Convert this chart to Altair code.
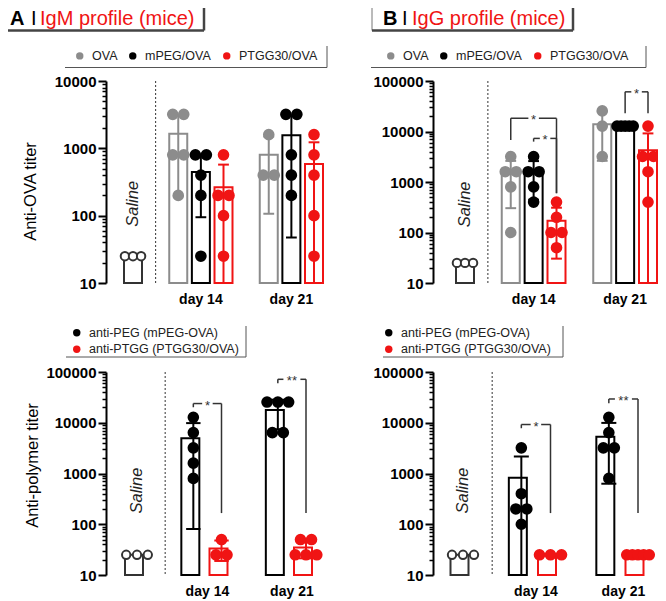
import math
from collections import Counter, defaultdict
import altair as alt
import pandas as pd

# ---------------- data: individual titers ----------------
saline_titer = [25, 25, 25]
day_labels = ["day 14", "day 21"]
ova_series = ["OVA", "mPEG/OVA", "PTGG30/OVA"]
polymer_series = ["anti-PEG (mPEG-OVA)", "anti-PTGG (PTGG30/OVA)"]

# A (top): IgM anti-OVA
igm_ova_d14 = [3200, 3200, 800, 800, 200]
igm_mpeg_d14 = [800, 800, 400, 200, 25]
igm_ptgg_d14 = [800, 200, 200, 100, 25]
igm_ova_d21 = [1600, 400, 400]
igm_mpeg_d21 = [3200, 3200, 800, 400, 200]
igm_ptgg_d21 = [1600, 800, 400, 100, 25]

# B (top): IgG anti-OVA
igg_ova_d14 = [3200, 1600, 1600, 800, 100]
igg_mpeg_d14 = [3200, 1600, 1600, 800, 400]
igg_ptgg_d14 = [400, 200, 100, 100, 50]
igg_ova_d21 = [25600, 12800, 3200]
igg_mpeg_d21 = [12800, 12800, 12800, 12800, 12800]
igg_ptgg_d21 = [12800, 3200, 3200, 1600, 400]

# A (bottom): IgM anti-polymer
igm_antipeg_d14 = [12800, 6400, 3200, 1600, 800]
igm_antiptgg_d14 = [50, 25, 25]
igm_antipeg_d21 = [25600, 25600, 25600, 6400, 6400]
igm_antiptgg_d21 = [50, 50, 25, 25, 25]

# B (bottom): IgG anti-polymer
igg_antipeg_d14 = [3200, 400, 200, 200, 100]
igg_antiptgg_d14 = [25, 25, 25]
igg_antipeg_d21 = [12800, 6400, 3200, 3200, 800]
igg_antiptgg_d21 = [25, 25, 25, 25, 25]

# significance brackets: (from, to, bracket titer, left leg end, right leg end, label)
igg_ova_sig = [
    ("OVA|day 14", "PTGG30/OVA|day 14", 18200, 6800, 600, "*"),
    ("mPEG/OVA|day 14", "PTGG30/OVA|day 14", 7300, 6300, 600, "*"),
    ("mPEG/OVA|day 21", "PTGG30/OVA|day 21", 61000, 23000, 23000, "*"),
]
igm_poly_sig = [
    ("anti-PEG (mPEG-OVA)|day 14", "anti-PTGG (PTGG30/OVA)|day 14", 23900, 20200, 166, "*"),
    ("anti-PEG (mPEG-OVA)|day 21", "anti-PTGG (PTGG30/OVA)|day 21", 71800, 59800, 166, "**"),
]
igg_poly_sig = [
    ("anti-PEG (mPEG-OVA)|day 14", "anti-PTGG (PTGG30/OVA)|day 14", 9230, 7800, 166, "*"),
    ("anti-PEG (mPEG-OVA)|day 21", "anti-PTGG (PTGG30/OVA)|day 21", 29400, 24200, 166, "**"),
]

# ---------------- styling ----------------
M = 8
W, H = 650, 593
FONT = "Liberation Sans"
GRAY, BLACK, RED, DARK = "#8c8c8c", "#000000", "#f01414", "#333333"


def stats(vals):
    m = sum(vals) / len(vals)
    sd = math.sqrt(sum((v - m) ** 2 for v in vals) / (len(vals) - 1)) if len(vals) > 1 else 0.0
    return m, sd


def panel(groups, series, colors, geom, sig, saline_y, ytitle, legend_dir, label_series, shift_half_step):
    days = day_labels
    cats = ["Saline", "sp1"] + [f"{s}|{days[0]}" for s in series] + ["sp2"] + [f"{s}|{days[1]}" for s in series]
    n = len(cats)
    bw = geom["bw"]
    step = (geom["c_last"] - geom["c_first"]) / (n - 1)
    pin = 1 - bw / step
    span = geom["x1"] - geom["x0"]
    pout = (span / step - n + pin) / 2
    align = (geom["c_first"] - bw / 2 - geom["x0"]) / (span - step * (n - pin))
    xs = alt.Scale(type="band", domain=cats, range=[geom["x0"] - M, geom["x1"] - M],
                   paddingInner=pin, paddingOuter=pout, align=align, round=False)
    ytop = geom["ytop"]
    ys = alt.Scale(type="log", domain=[10, ytop], range=[geom["yb"] - M, geom["yt"] - M], nice=False)
    os_ = alt.Scale(domain=[-1, 1])
    stroke_s = alt.Scale(domain=["Saline"] + series, range=[DARK] + colors)
    fill_s = alt.Scale(domain=series, range=colors)

    pts, summ, caps = [], [], []

    def add(cat, ser, vals):
        cnt = Counter(vals)
        seen = defaultdict(int)
        for v in vals:
            k = cnt[v]
            j = seen[v]
            seen[v] += 1
            gap = min(11.0, 0.9 * bw / (k - 1)) if k > 1 else 0.0
            px = (j - (k - 1) / 2) * gap
            pts.append(dict(cat=cat, series=ser, titer=v, off=px / (bw / 2)))
        m, sd = stats(vals)
        lo = m - sd
        summ.append(dict(cat=cat, series=ser, mean=m, sd=sd, lo=max(lo, 10), hi=m + sd, base=10))
        if sd > 0:
            caps.append(dict(cat=cat, series=ser, v=m + sd))
            if lo > 10:
                caps.append(dict(cat=cat, series=ser, v=lo))

    add("Saline", "Saline", saline_titer)
    for d in days:
        for s in series:
            add(f"{s}|{d}", s, groups[(s, d)])
    pts = pd.DataFrame(pts)
    summ = pd.DataFrame(summ)
    caps = pd.DataFrame(caps)

    k_top = int(round(math.log10(ytop)))
    decades = [10 ** k for k in range(1, k_top + 1)]
    minors = [m * 10 ** k for k in range(1, k_top) for m in range(2, 10)]

    major_kw = dict(orient="left", offset=-(geom["x0"] - M), values=decades, format="d",
                    labelFont=FONT, labelFontSize=15, labelFontWeight="bold", labelColor="black",
                    labelPadding=2, tickSize=8, tickWidth=2, tickColor="black",
                    domainWidth=2, domainColor="black", grid=False)
    if ytitle:
        major_kw.update(title=ytitle, titleFont=FONT, titleFontSize=16.5, titleFontWeight="normal",
                        titleColor="black", titleAngle=270, titleAlign="center", titleBaseline="middle",
                        titleX=geom["tx"] - geom["x0"], titleY=geom["ty"] - M)
    else:
        major_kw.update(title=None)
    major = alt.Axis(**major_kw)
    minor = alt.Axis(orient="left", offset=-(geom["x0"] - M), values=minors, labels=False,
                     tickSize=4, tickWidth=1.5, tickColor="black", domain=False, grid=False, title=None)

    xaxis = alt.Axis(orient="bottom", offset=(geom["yb"] - M) - H, labels=False,
                     ticks=False, domainWidth=2, domainColor="black", grid=False, title=None)

    def X(field="cat", axis=None):
        return alt.X(f"{field}:N", scale=xs, axis=axis)

    def Y(field, axis=None):
        return alt.Y(f"{field}:Q", scale=ys, axis=axis)

    divider = alt.Chart(pd.DataFrame({"cat": ["sp1"], "top": [ytop], "bottom": [10]})).mark_rule(
        color=DARK, strokeWidth=1, strokeDash=[2, 2]).encode(x=X(), y=Y("top", minor), y2="bottom:Q")

    bars = alt.Chart(summ).mark_bar(fill="white", strokeWidth=2).encode(
        x=X(axis=xaxis), y=Y("mean", major), y2="base:Q",
        stroke=alt.Stroke("series:N", scale=stroke_s, legend=None))

    err = alt.Chart(summ[summ["sd"] > 0]).mark_rule(strokeWidth=2).encode(
        x=X(), y=Y("lo"), y2="hi:Q", stroke=alt.Stroke("series:N", scale=stroke_s, legend=None))

    lx, ly = geom["leg"]
    legend = alt.Legend(orient="none", legendX=lx - M - 3.5, legendY=ly - M - 6.5, direction=legend_dir,
                        title=None, labelFont=FONT, labelFontSize=12.5, labelColor="#222222",
                        symbolType="circle", symbolSize=55, symbolStrokeWidth=0, symbolOpacity=1,
                        labelOffset=6, columnPadding=9, rowPadding=3.5, padding=0)

    capl = alt.Chart(caps).mark_tick(orient="horizontal", size=0.6 * bw, thickness=2, opacity=1).encode(
        x=X(), y=Y("v"), fill=alt.Fill("series:N", scale=fill_s, legend=legend))

    dots = alt.Chart(pts[pts["series"] != "Saline"]).mark_point(
        shape="circle", filled=True, size=135, opacity=1, strokeWidth=0).encode(
        x=X(), xOffset=alt.XOffset("off:Q", scale=os_), y=Y("titer"),
        fill=alt.Fill("series:N", scale=fill_s, legend=legend))

    sal = alt.Chart(pts[pts["series"] == "Saline"]).mark_point(
        shape="circle", filled=True, fill="white", stroke=DARK, strokeWidth=2, size=70, opacity=1).encode(
        x=X(), xOffset=alt.XOffset("off:Q", scale=os_), y=Y("titer"))

    sal_txt = alt.Chart(pd.DataFrame({"cat": ["Saline"], "y": [saline_y], "t": ["Saline"]})).mark_text(
        angle=270, font=FONT, fontSize=16.5, fontStyle="italic", color="#222222",
        align="center", baseline="middle").encode(x=X(), y=Y("y"), text="t:N")

    # day labels under the x axis
    lab_off = (step / bw) if shift_half_step else 0.0
    ddf = pd.DataFrame([dict(cat=f"{label_series}|{d}", y=10, t=d, off=lab_off) for d in days])
    day_txt = alt.Chart(ddf).mark_text(font=FONT, fontSize=14, fontWeight="bold", color="black",
                                       align="center", baseline="middle", dy=17).encode(
        x=X(), xOffset=alt.XOffset("off:Q", scale=os_), y=Y("y"), text="t:N")

    layers = [divider, bars, err, capl, sal, dots, sal_txt, day_txt]

    if sig:
        idx = {c: i for i, c in enumerate(cats)}
        sdf = pd.DataFrame([dict(c1=a, c2=b, y=yv, lab=lab,
                                 mid=(idx[b] - idx[a]) * step / bw,
                                 ks=(6.5 * len(lab) + 4) ** 2) for a, b, yv, e1, e2, lab in sig])
        ldf = pd.DataFrame([dict(cat=a, y=yv, e=e1) for a, b, yv, e1, e2, lab in sig] +
                           [dict(cat=b, y=yv, e=e2) for a, b, yv, e1, e2, lab in sig])
        hline = alt.Chart(sdf).mark_rule(color=DARK, strokeWidth=1.5).encode(
            x=X("c1"), x2="c2:N", y=Y("y"))
        legs = alt.Chart(ldf).mark_rule(color=DARK, strokeWidth=1.5).encode(
            x=X(), y=Y("y"), y2="e:Q")
        knock = alt.Chart(sdf).mark_point(shape="square", filled=True, fill="white", opacity=1,
                                          strokeWidth=0).encode(
            x=X("c1"), xOffset=alt.XOffset("mid:Q", scale=os_), y=Y("y"),
            size=alt.Size("ks:Q", scale=None))
        stars = alt.Chart(sdf).mark_text(font=FONT, fontSize=13, color=DARK, align="center",
                                         baseline="alphabetic", dy=6).encode(
            x=X("c1"), xOffset=alt.XOffset("mid:Q", scale=os_), y=Y("y"), text="lab:N")
        layers += [hline, legs, knock, stars]

    return alt.layer(*layers).resolve_axis(y="independent")


def groups_of(series, arrays):
    g = {}
    for i, d in enumerate(day_labels):
        for j, s in enumerate(series):
            g[(s, d)] = arrays[i][j]
    return g


tl = panel(groups_of(ova_series, [[igm_ova_d14, igm_mpeg_d14, igm_ptgg_d14],
                                  [igm_ova_d21, igm_mpeg_d21, igm_ptgg_d21]]),
           ova_series, [GRAY, BLACK, RED],
           dict(x0=106, x1=333, yt=81, yb=283, c_first=133, c_last=314, bw=18, ytop=10000,
                tx=30, ty=191, leg=(77, 56)),
           None, 150, "Anti-OVA titer", "horizontal", "mPEG/OVA", False)

tr = panel(groups_of(ova_series, [[igg_ova_d14, igg_mpeg_d14, igg_ptgg_d14],
                                  [igg_ova_d21, igg_mpeg_d21, igg_ptgg_d21]]),
           ova_series, [GRAY, BLACK, RED],
           dict(x0=433, x1=658, yt=81, yb=283, c_first=465, c_last=648, bw=18, ytop=100000,
                tx=0, ty=0, leg=(388, 56)),
           igg_ova_sig, 360, None, "horizontal", "mPEG/OVA", False)

bl = panel(groups_of(polymer_series, [[igm_antipeg_d14, igm_antiptgg_d14],
                                      [igm_antipeg_d21, igm_antiptgg_d21]]),
           polymer_series, [BLACK, RED],
           dict(x0=106, x1=331, yt=372, yb=575, c_first=137, c_last=306, bw=24, ytop=100000,
                tx=32, ty=465, leg=(74, 333)),
           igm_poly_sig, 460, "Anti-polymer titer", "vertical", "anti-PEG (mPEG-OVA)", True)

br = panel(groups_of(polymer_series, [[igg_antipeg_d14, igg_antiptgg_d14],
                                      [igg_antipeg_d21, igg_antiptgg_d21]]),
           polymer_series, [BLACK, RED],
           dict(x0=433, x1=658, yt=372, yb=575, c_first=463, c_last=638, bw=25, ytop=100000,
                tx=0, ty=0, leg=(386, 333)),
           igg_poly_sig, 460, None, "vertical", "anti-PEG (mPEG-OVA)", True)

# ---------------- decorations: panel title boxes and legend frames (page px) ----------------
frame = [
    # (x, x2, y, y2, width, color)
    (0, 204, 30.5, 30.5, 2.5, "#444444"), (204, 204, 0, 30.5, 2.5, "#444444"),
    (372, 372, 0, 30.5, 1, "#777777"), (372, 573, 30.5, 30.5, 2.5, "#444444"),
    (573, 573, 0, 30.5, 2.5, "#444444"),
    (65, 327, 67.5, 67.5, 1, "#555555"), (327, 327, 46, 67.5, 1, "#555555"),
    (371, 646, 67.5, 67.5, 1, "#555555"), (646, 646, 46, 67.5, 1, "#555555"),
    (66, 246, 357, 357, 1, "#555555"), (246, 246, 326, 357, 1, "#555555"),
    (383, 563, 357, 357, 1, "#555555"), (563, 563, 326, 357, 1, "#555555"),
]
fdf = pd.DataFrame([dict(x=a - M, x2=b - M, y=c - M, y2=d - M, w=w, c=col) for a, b, c, d, w, col in frame])
deco_lines = alt.Chart(fdf).mark_rule().encode(
    x=alt.X("x:Q", scale=None), x2="x2:Q", y=alt.Y("y:Q", scale=None), y2="y2:Q",
    strokeWidth=alt.StrokeWidth("w:Q", scale=None), color=alt.Color("c:N", scale=None))

letters = pd.DataFrame([dict(t="A", x=10 - M, y=25 - M), dict(t="B", x=383 - M, y=25 - M)])
titles = pd.DataFrame([
    dict(t="I", x=31 - M, y=25 - M, c="#000000"), dict(t="IgM profile (mice)", x=40 - M, y=25 - M, c=RED),
    dict(t="I", x=402 - M, y=25 - M, c="#000000"), dict(t="IgG profile (mice)", x=412 - M, y=25 - M, c=RED),
])
t_bold = alt.Chart(letters).mark_text(font=FONT, fontSize=20, fontWeight="bold", align="left",
                                      baseline="alphabetic", color="black").encode(
    x=alt.X("x:Q", scale=None), y=alt.Y("y:Q", scale=None), text="t:N")
t_norm = alt.Chart(titles).mark_text(font=FONT, fontSize=20, align="left", baseline="alphabetic").encode(
    x=alt.X("x:Q", scale=None), y=alt.Y("y:Q", scale=None), text="t:N",
    color=alt.Color("c:N", scale=None))

chart = alt.layer(tl, tr, bl, br, deco_lines, t_bold, t_norm).resolve_scale(
    x="independent", y="independent", xOffset="independent", fill="independent", stroke="independent"
).properties(width=W, height=H, autosize="none", padding=0, background="white"
).configure_view(stroke=None)

chart.save("out.html", embed_options={"renderer": "svg", "actions": False})
